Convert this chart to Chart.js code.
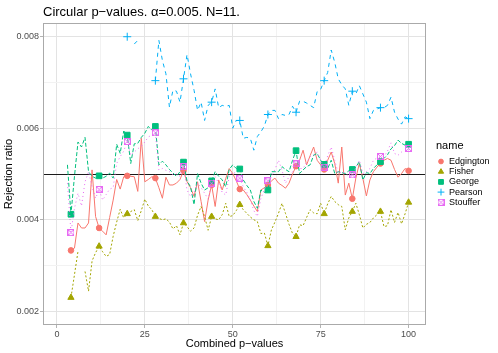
<!DOCTYPE html>
<html>
<head>
<meta charset="utf-8">
<script src="https://cdn.jsdelivr.net/npm/chart.js@4/dist/chart.umd.min.js"></script>
<style>
  html, body { margin: 0; padding: 0; background: #fff; }
  #wrap { width: 498px; height: 353px; position: relative; }
</style>
</head>
<body>
<div id="wrap"><canvas id="chart"></canvas></div>
<script>
// ---------- data (rejection ratio, in units of 1e-3) ----------
const combined = [
  3, 4, 5, 6, 7, 8, 9, 10, 11, 12, 13, 14, 15, 16, 17, 18, 19, 20,
  21, 22, 23, 24, 25, 26, 27, 28, 29, 30, 31, 32, 33, 34, 35, 36, 37, 38, 39, 40,
  41, 42, 43, 44, 45, 46, 47, 48, 49, 50, 51, 52, 53, 54, 55, 56, 57, 58, 59, 60,
  61, 62, 63, 64, 65, 66, 67, 68, 69, 70, 71, 72, 73, 74, 75, 76, 77, 78, 79, 80,
  81, 82, 83, 84, 85, 86, 87, 88, 89, 90, 91, 92, 93, 94, 95, 96, 97, 98, 99, 100
];
const markerAt = [4, 12, 20, 28, 36, 44, 52, 60, 68, 76, 84, 92, 100];

const edgington = [
  null, 3.33, 3.38, 3.93, 3.82, 3.82, 3.93, 5.09, 4.07, 3.82,
  3.75, 3.67, 4.05, 4.43, 4.88, 4.67, 4.94, 4.96,
  4.95, 4.94, 4.62, 5.78, 4.83, 4.88, 4.94, 4.91,
  4.70, 4.47, 4.93, 4.76, 4.76, 4.80, 4.88, 5.07,
  4.83, 4.70, 4.51, 4.83, 4.40, 3.96, 4.43, 4.76,
  4.29, 4.87, 4.65, 4.90, 5.12, 5.01, 4.85, 4.67,
  4.65, 4.55, 4.43, 4.30, 4.18, 4.65, 4.70, 4.76,
  4.85, 4.91, 4.80, 4.75, 4.69, 4.80, 5.00, 5.17,
  5.30, 5.52, 5.20, 5.40, 5.59, 5.30, 5.20, 5.10,
  5.30, 5.48, 5.23, 4.80, 5.59, 4.54, 4.80, 4.46,
  4.91, 5.23, 4.90, 4.52, 4.87, 5.05, 5.15, 5.23,
  5.30, 5.34, 5.30, 5.10, 4.93, 5.01, 5.12, 5.07
];
const fisher = [
  null, 2.30, 2.80, 3.31, null, 2.87, 2.44, 3.10, 3.28, 3.42,
  3.30, 3.20, 3.24, 3.64, 3.95, 4.23, 4.04, 4.13,
  4.18, 4.22, 3.98, 4.20, 4.45, 4.30, 4.22, 4.07,
  4.03, 4.00, 4.02, 3.95, 3.80, 3.87, 3.67, 3.93,
  3.85, 3.75, 3.82, 4.10, 4.29, 4.07, 3.77, 4.07,
  4.02, 4.00, 4.11, 4.36, 4.07, 4.09, 4.20, 4.33,
  4.22, 4.14, 4.06, 4.00, 3.96, 3.70, 3.71, 3.43,
  3.78, 3.95, 4.14, 4.36, 4.14, 3.90, 3.70, 3.63,
  3.89, 3.87, 4.05, 4.22, 4.15, 4.13, 4.36, 4.13,
  4.35, 4.51, 4.40, 4.33, 4.29, 3.78, 4.04, 4.18,
  4.36, 4.11, 3.82, 3.90, 3.94, 4.04, 4.11, 4.18,
  3.85, 3.87, 4.22, 3.94, 4.16, 3.91, 4.13, 4.38
];
const george = [
  5.20, 4.12, 4.95, 5.70, 5.59, 5.80, 5.05, 4.95, 4.91, 4.96,
  4.91, 4.95, 5.02, 4.91, 5.65, 5.45, 5.94, 5.85,
  5.23, 5.66, 5.67, 5.80, 5.89, 6.04, 5.96, 6.04,
  5.20, 5.28, 5.20, 5.10, 5.02, 4.95, 5.05, 5.26,
  4.85, 4.72, 4.33, 5.01, 4.80, 4.65, 4.70, 4.85,
  5.05, 4.95, 4.87, 4.72, 5.10, 5.20, 5.12, 5.11,
  4.87, 4.75, 4.65, 4.40, 4.25, 4.65, 4.60, 4.65,
  5.05, 5.05, 5.05, 5.16, 5.10, 5.05, 5.30, 5.51,
  5.01, 5.09, 5.16, 5.20, 5.41, 5.45, 5.30, 5.21,
  5.12, 5.30, 5.01, 5.05, 5.03, 5.01, 5.07, 5.10,
  5.15, 5.27, 4.87, 5.03, 5.01, 5.12, 5.20, 5.27,
  5.34, 5.42, 5.55, 5.62, 5.74, 5.67, 5.63, 5.65
];
// values above the y limit were dropped in the original, hence the gaps
const pearson = [
  null, null, null, null, null, null, null, null, null, null,
  null, null, null, null, null, null, null, 8.00,
  null, 7.84, 7.92, null, null, null, null, 7.04,
  7.92, 7.48, 7.19, 6.46, 6.83, 6.81, 6.57, 7.08,
  7.61, 7.19, 6.83, 6.39, 6.57, 6.17, 6.50, 6.57,
  6.86, 6.45, 6.50, 6.48, 6.50, 6.00, 6.17, 6.17,
  5.78, 5.80, 5.78, 5.52, 5.82, 5.92, 6.05, 6.30,
  6.39, 6.39, 6.21, 6.30, 6.28, 6.30, 6.48, 6.35,
  6.59, 6.59, 6.55, 6.50, 6.45, 6.80, 6.85, 7.04,
  7.22, 7.71, 7.44, 7.08, 6.95, 6.86, 6.50, 6.81,
  6.75, 6.93, 6.75, 6.57, 6.21, 6.39, 6.42, 6.45,
  6.45, 6.50, 6.68, 6.35, 6.20, 6.09, 6.25, 6.21
];
const stouffer = [
  4.80, 3.72, 4.25, 4.58, 4.30, 4.83, 5.05, 4.72, 4.47, 4.66,
  4.43, 4.55, 4.67, 4.70, 5.23, 5.38, 5.50, 5.71,
  5.41, 5.48, 5.55, 5.61, 5.70, 5.81, 5.85, 5.90,
  5.09, 5.12, 5.08, 5.05, 4.98, 5.00, 4.95, 5.16,
  4.65, 4.51, 4.60, 4.80, 4.70, 4.58, 4.45, 4.80,
  4.94, 4.80, 4.60, 4.54, 4.94, 5.05, 5.00, 4.91,
  4.72, 4.60, 4.43, 4.20, 4.07, 4.47, 4.65, 4.85,
  4.94, 5.10, 5.30, 5.09, 4.80, 4.94, 5.05, 5.22,
  5.12, 5.12, 5.25, 5.38, 5.42, 5.48, 5.30, 5.15,
  5.40, 5.59, 5.30, 5.01, 5.05, 5.01, 4.96, 4.98,
  5.15, 5.30, 5.01, 5.05, 5.12, 5.30, 5.35, 5.38,
  5.38, 5.50, 5.68, 5.45, 5.41, 5.48, 5.50, 5.56
];

const xTicks = [0, 25, 50, 75, 100];
const xMinor = [12.5, 37.5, 62.5, 87.5];
const yTicks = [0.002, 0.004, 0.006, 0.008];
const yMinor = [0.003, 0.005, 0.007];
const alphaLevel = 0.005;
const titleText = 'Circular p\u2212values. \u03b1=0.005. N=11.';

// ---------- styles ----------
function boxCross(color) {
    const c = document.createElement('canvas');
    c.width = 7; c.height = 7;
    const g = c.getContext('2d');
    g.strokeStyle = color;
    g.lineWidth = 1;
    g.strokeRect(0.5, 0.5, 6, 6);
    g.beginPath();
    g.moveTo(0.5, 0.5); g.lineTo(6.5, 6.5);
    g.moveTo(6.5, 0.5); g.lineTo(0.5, 6.5);
    g.stroke();
    return c;
}

const series = [
    { name: 'Edgington', values: edgington, color: '#F8766D', dash: [],     point: 'circle',   r: 2.8 },
    { name: 'Fisher',    values: fisher,    color: '#A3A500', dash: [2, 2], point: 'triangle', r: 3.6 },
    { name: 'George',    values: george,    color: '#00BF7D', dash: [4, 2], point: 'rect',     r: 4.0 },
    { name: 'Pearson',   values: pearson,   color: '#00B0F6', dash: [4, 4], point: 'cross',    r: 4.0 },
    { name: 'Stouffer',  values: stouffer,  color: '#E76BF3', dash: [1, 3], point: boxCross('#E76BF3'), r: 3.5 }
];

const isIn = (list, v) => list.some(t => Math.abs(t - v) < 1e-9);

const datasets = series.map((s, i) => ({
    label: s.name,
    data: combined.map((x, k) => ({ x: x, y: s.values[k] == null ? null : s.values[k] / 1000 })),
    borderColor: s.color,
    backgroundColor: s.color,
    borderWidth: 1,
    borderDash: s.dash,
    tension: 0,
    spanGaps: false,
    order: series.length - i,
    pointStyle: s.point,
    pointRadius: ctx => (ctx.raw && markerAt.includes(ctx.raw.x)) ? s.r : 0,
    pointBorderWidth: 1,
    pointBorderColor: s.color,
    pointBackgroundColor: s.color
}));

// ---------- plugins ----------
const panelDecor = {
    id: 'panelDecor',
    beforeDatasetsDraw(chart) {
        const { ctx, chartArea: a, scales } = chart;
        const y = Math.round(scales.y.getPixelForValue(alphaLevel)) + 0.5;
        ctx.save();
        ctx.strokeStyle = '#1a1a1a';
        ctx.lineWidth = 1;
        ctx.beginPath();
        ctx.moveTo(a.left, y);
        ctx.lineTo(a.right, y);
        ctx.stroke();
        ctx.restore();
    },
    afterDatasetsDraw(chart) {
        const { ctx, chartArea: a } = chart;
        ctx.save();
        ctx.strokeStyle = '#aaaaaa';
        ctx.lineWidth = 1;
        ctx.strokeRect(a.left + 0.5, a.top + 0.5, a.right - a.left - 1, a.bottom - a.top - 1);
        ctx.restore();
    },
    afterDraw(chart) {
        const { ctx, chartArea: a } = chart;
        ctx.save();
        // title
        ctx.fillStyle = '#000';
        ctx.font = '13px "Liberation Sans", Arial, sans-serif';
        ctx.textBaseline = 'alphabetic';
        ctx.fillText(titleText, a.left, 16);
        // legend
        const lx = a.right + 10;
        const ly = 146;
        ctx.font = '11px "Liberation Sans", Arial, sans-serif';
        ctx.textBaseline = 'middle';
        ctx.fillText('name', lx, ly);
        ctx.font = '9px "Liberation Sans", Arial, sans-serif';
        series.forEach((s, i) => {
            const y = ly + 15.5 + i * 10.2;
            ctx.fillStyle = s.color;
            ctx.strokeStyle = s.color;
            ctx.lineWidth = 1;
            Chart.helpers.drawPoint(ctx, { pointStyle: s.point, radius: s.r * 0.85, rotation: 0, borderWidth: 1 }, lx + 5, y);
            ctx.fillStyle = '#000';
            ctx.fillText(s.name, lx + 13, y);
        });
        ctx.restore();
    }
};

// ---------- chart ----------
Chart.defaults.font.family = '"Liberation Sans", Arial, sans-serif';

new Chart(document.getElementById('chart'), {
    type: 'line',
    data: { datasets: datasets },
    options: {
        responsive: true,
        maintainAspectRatio: false,
        animation: false,
        events: [],
        layout: { padding: { left: 0, right: 72, top: 23, bottom: 0 } },
        plugins: { legend: { display: false }, tooltip: { enabled: false } },
        scales: {
            x: {
                type: 'linear',
                min: -3.95,
                max: 104.95,
                afterBuildTicks: s => { s.ticks = [...xTicks, ...xMinor].sort((a, b) => a - b).map(v => ({ value: v })); },
                afterFit: s => { s.height = 28; },
                ticks: {
                    autoSkip: false,
                    maxRotation: 0,
                    padding: 1,
                    color: '#4d4d4d',
                    font: { size: 9 },
                    callback: v => isIn(xTicks, v) ? String(v) : ''
                },
                grid: {
                    color: ctx => isIn(xTicks, ctx.tick.value) ? '#e3e3e3' : '#f2f2f2',
                    tickColor: ctx => isIn(xTicks, ctx.tick.value) ? '#b3b3b3' : 'rgba(0,0,0,0)',
                    tickLength: 3
                },
                border: { display: false },
                title: { display: true, text: 'Combined p\u2212values', color: '#000', font: { size: 11 }, padding: { top: 0, bottom: 2 } }
            },
            y: {
                min: 0.0017,
                max: 0.0083,
                afterBuildTicks: s => { s.ticks = [...yTicks, ...yMinor].sort((a, b) => a - b).map(v => ({ value: v })); },
                afterFit: s => { s.width = 43; },
                ticks: {
                    autoSkip: false,
                    padding: 1,
                    color: '#4d4d4d',
                    font: { size: 9 },
                    callback: v => isIn(yTicks, v) ? v.toFixed(3) : ''
                },
                grid: {
                    color: ctx => isIn(yTicks, ctx.tick.value) ? '#e3e3e3' : '#f2f2f2',
                    tickColor: ctx => isIn(yTicks, ctx.tick.value) ? '#b3b3b3' : 'rgba(0,0,0,0)',
                    tickLength: 3
                },
                border: { display: false },
                title: { display: true, text: 'Rejection ratio', color: '#000', font: { size: 11 }, padding: { top: 2, bottom: 0 } }
            }
        }
    },
    plugins: [panelDecor]
});
</script>
</body>
</html>
